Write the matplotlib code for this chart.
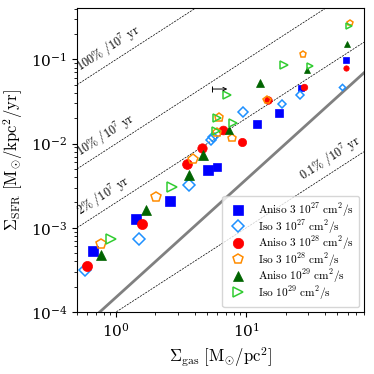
import numpy as np
import matplotlib
matplotlib.use("Agg")
import matplotlib.pyplot as plt
from matplotlib.lines import Line2D

plt.rcParams['mathtext.fontset'] = 'cm'
plt.rcParams['font.family'] = 'serif'
plt.rcParams['font.serif'] = ['DejaVu Serif']

# ---- data ----
aniso27_x = [0.662, 1.425, 2.57, 5.04, 5.95, 12.0, 17.7, 26.3, 58.5]
aniso27_y = [5.30e-4, 1.26e-3, 2.10e-3, 4.85e-3, 5.22e-3, 0.0169, 0.0233, 0.0461, 0.0984]

iso27_x = [0.58, 1.49, 3.62, 5.35, 5.50, 9.37, 18.8, 26.0, 54.1]
iso27_y = [3.11e-4, 7.29e-4, 3.25e-3, 0.01104, 0.0121, 0.0239, 0.0293, 0.0378, 0.0474]

aniso28_x = [0.598, 1.58, 3.49, 4.56, 6.58, 9.27, 14.6, 27.9, 58.5]
aniso28_y = [3.55e-4, 1.10e-3, 5.65e-3, 8.79e-3, 0.0145, 0.01055, 0.0327, 0.0467, 0.0796]

iso28_x = [0.767, 2.03, 3.91, 5.98, 6.2, 7.76, 14.5, 27.1, 63.1]
iso28_y = [6.42e-4, 2.34e-3, 6.56e-3, 0.01375, 0.0209, 0.01156, 0.0334, 0.116, 0.268]

aniso29_x = [0.767, 1.70, 3.65, 4.61, 7.31, 12.8, 29.1, 59.5]
aniso29_y = [4.75e-4, 1.63e-3, 4.24e-3, 7.23e-3, 0.0145, 0.052, 0.0748, 0.152]

iso29_x = [0.915, 2.70, 5.85, 5.91, 7.85, 7.08, 19.3, 30.9, 62.0]
iso29_y = [7.29e-4, 3.03e-3, 0.0141, 0.0203, 0.0174, 0.0378, 0.0857, 0.0841, 0.249]

labels = [r'$\mathrm{Aniso\ 3\ 10^{27}\ cm^2/s}$', r'$\mathrm{Iso\ 3\ 10^{27}\ cm^2/s}$',
          r'$\mathrm{Aniso\ 3\ 10^{28}\ cm^2/s}$', r'$\mathrm{Iso\ 3\ 10^{28}\ cm^2/s}$',
          r'$\mathrm{Aniso\ 10^{29}\ cm^2/s}$', r'$\mathrm{Iso\ 10^{29}\ cm^2/s}$']

efficiencies = [1.0, 0.1, 0.02, 0.001]
eff_labels = [r'$\mathrm{100\%\ /10^7\ yr}$', r'$\mathrm{10\%\ /10^7\ yr}$',
              r'$\mathrm{2\%\ /10^7\ yr}$', r'$\mathrm{0.1\%\ /10^7\ yr}$']
eff_label_x = [0.56, 0.555, 0.555, 28.5]

ks_coef = 1.5e-4
ks_index = 1.4

err_x = [5.47, 7.14]
err_y = 0.0445

# ---- figure ----
fig = plt.figure(figsize=(3.74, 3.74), dpi=100)
ax = fig.add_axes([0.206, 0.166, 0.767, 0.813])
ax.set_xscale('log')
ax.set_yscale('log')
xmin, xmax = 0.5, 80
ymin, ymax = 1e-4, 0.41
ax.set_xlim(xmin, xmax)
ax.set_ylim(ymin, ymax)

xx = np.logspace(np.log10(xmin), np.log10(xmax), 100)
for eff in efficiencies:
    ax.plot(xx, eff * xx * 1e6 / 1e7, ls='--', color='black', lw=0.5,
            dashes=(3, 1.5), zorder=1)
ax.plot(xx, ks_coef * xx ** ks_index, color='gray', lw=2.0, zorder=1)

# rotation for slope-1 lines
p1 = ax.transData.transform((1, 1e-3))
p2 = ax.transData.transform((10, 1e-2))
ang = np.degrees(np.arctan2(p2[1] - p1[1], p2[0] - p1[0]))
for eff, lab, lx in zip(efficiencies, eff_labels, eff_label_x):
    ax.text(lx, eff * lx * 0.1 * 1.12, lab, rotation=ang, rotation_mode='anchor',
            ha='left', va='bottom', fontsize=8.8, zorder=2)

def sizes(xs):
    # marker size shrinks with increasing gas surface density
    lx = np.log10(np.asarray(xs))
    return np.clip(7.3 - 2.6 * np.clip(lx - 0.45, 0, None), 2.6, 7.3)

series = [
    (aniso27_x, aniso27_y, 's', 'blue', 'blue'),
    (iso27_x, iso27_y, 'D', 'none', '#1e90ff'),
    (aniso28_x, aniso28_y, 'o', 'red', 'red'),
    (iso28_x, iso28_y, 'p', 'none', '#ff8c00'),
    (aniso29_x, aniso29_y, '^', 'darkgreen', 'darkgreen'),
    (iso29_x, iso29_y, '>', 'none', '#32cd32'),
]
handles = []
for (xs, ys, m, fc, ec), lab in zip(series, labels):
    ms = sizes(xs)
    for xv, yv, s in zip(xs, ys, ms):
        sz = s * (0.8 if m == 'D' else 1.0)
        ax.plot([xv], [yv], marker=m, ms=sz, mfc=fc, mec=ec,
                mew=1.1 if fc == 'none' else 0.5, ls='none', zorder=3)
    handles.append(Line2D([], [], marker=m, ms=7.5 * (0.85 if m == 'D' else 1.0),
                          mfc=fc, mec=ec, mew=1.1 if fc == 'none' else 0.5, ls='none'))

# representative error bar
ax.annotate('', xy=(err_x[1], err_y), xytext=(err_x[0], err_y),
            arrowprops=dict(arrowstyle='->', color='black', lw=0.7,
                            shrinkA=0, shrinkB=0, mutation_scale=6))
ax.plot([err_x[0]], [err_y], marker='|', ms=5, mew=0.7, color='black')

ax.legend(handles, labels, loc='lower right', fontsize=8.2, frameon=True,
          handletextpad=0.8, labelspacing=-0.12, borderaxespad=0.4,
          borderpad=0.5, handlelength=1.8)

ax.set_xlabel(r'$\Sigma_{\rm gas}\ [\rm M_{\odot}/pc^2]$', fontsize=12)
ax.set_ylabel(r'$\Sigma_{\rm SFR}\ [\rm M_{\odot}/kpc^2/yr]$', fontsize=12)
ax.tick_params(labelsize=11)

fig.savefig('out.png', dpi=100)
